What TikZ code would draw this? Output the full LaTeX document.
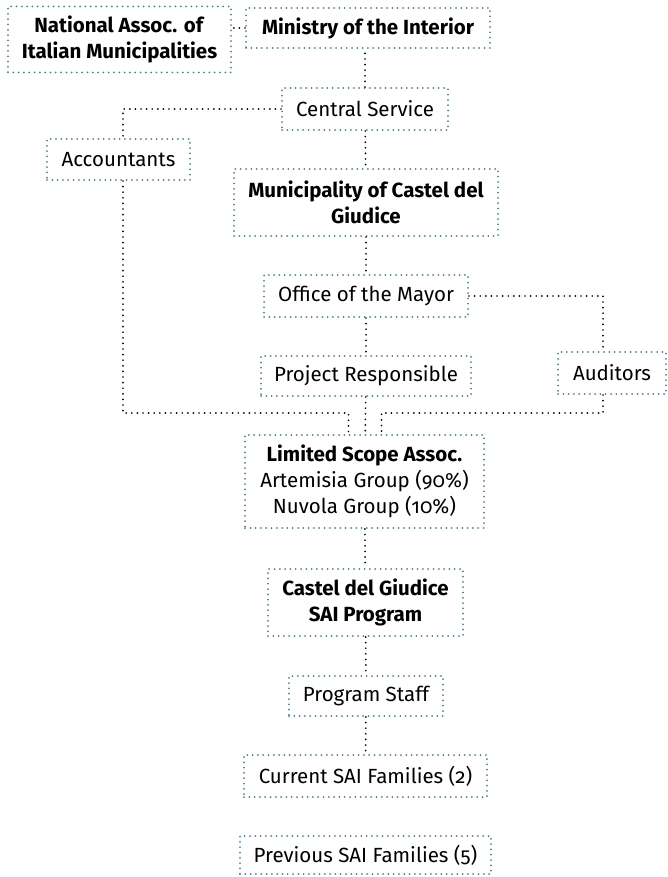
\documentclass[tikz,border=0pt]{standalone}
\usepackage{fontspec}
\setmainfont{Fira Sans}[Numbers=OldStyle]
\usepackage{tikz}
\definecolor{boxteal}{RGB}{78,128,140}

\begin{document}
\begin{tikzpicture}[x=1pt,y=-1pt,
  org/.style={draw=boxteal, line width=2pt, dash pattern=on 0pt off 5.3pt,
    line cap=round, align=center, inner sep=0pt,
    font=\fontsize{20.5}{25.8}\selectfont},
  link/.style={draw=black, line width=1.9pt, dash pattern=on 0pt off 5.6pt,
    line cap=round}]
  \useasboundingbox (0,0) rectangle (667,877);

  \node[org, minimum width=223pt, minimum height=66pt] (nat) at (119.5,39.5) {\textbf{National Assoc. of}\\\textbf{Italian Municipalities}};
  \node[org, minimum width=244pt, minimum height=40pt] (min) at (368,28) {\textbf{Ministry of the Interior}};
  \node[org, minimum width=166pt, minimum height=42pt] (cen) at (365,109) {Central Service};
  \node[org, minimum width=143pt, minimum height=41pt] (acc) at (118.5,159.5) {Accountants};
  \node[org, minimum width=264pt, minimum height=67pt] (mun) at (366,202.5) {\textbf{Municipality of Castel del}\\\textbf{Giudice}};
  \node[org, minimum width=204pt, minimum height=42pt] (off) at (366,296) {Office of the Mayor};
  \node[org, minimum width=108pt, minimum height=42pt] (aud) at (612,373) {Auditors};
  \node[org, minimum width=210pt, minimum height=40pt] (pro) at (366,376) {Project Responsible};
  \node[org, minimum width=239pt, minimum height=93pt] (lim) at (364.5,481.5) {\textbf{Limited Scope Assoc.}\\Artemisia Group (90\%)\\Nuvola Group (10\%)};
  \node[org, minimum width=195pt, minimum height=67pt] (sai) at (365.5,602.5) {\textbf{Castel del Giudice}\\\textbf{SAI Program}};
  \node[org, minimum width=154pt, minimum height=40pt] (sta) at (366,696) {Program Staff};
  \node[org, minimum width=243pt, minimum height=42pt] (cur) at (365.5,776) {Current SAI Families (2)};
  \node[org, minimum width=251pt, minimum height=38pt] (pre) at (365.5,855) {Previous SAI Families (5)};

  \coordinate (accup) at ([xshift=4.5pt]acc.north);
  \coordinate (accdn) at ([xshift=4.5pt]acc.south);
  \coordinate (audup) at ([xshift=-9pt]aud.north);
  \coordinate (auddn) at ([xshift=-9pt]aud.south);
  \coordinate (liml) at ([xshift=-16pt]lim.north);
  \coordinate (limr) at ([xshift=17pt]lim.north);

  \draw[link] (min.west) -- (min.west -| nat.east);
  \draw[link] (cen.north) -- (cen.north |- min.south);
  \draw[link] (cen.west) -| (accup);
  \draw[link] (cen) -- (mun);
  \draw[link] (mun) -- (off);
  \draw[link] (off.east) -| (audup);
  \draw[link] (off) -- (pro);
  \draw[link] (pro) -- (lim);
  \draw[link] (accdn) |- ([yshift=21pt]liml) -- (liml);
  \draw[link] (auddn) |- ([yshift=21pt]limr) -- (limr);
  \draw[link] (lim) -- (sai);
  \draw[link] (sai) -- (sta);
  \draw[link] (sta) -- (cur);
\end{tikzpicture}
\end{document}
